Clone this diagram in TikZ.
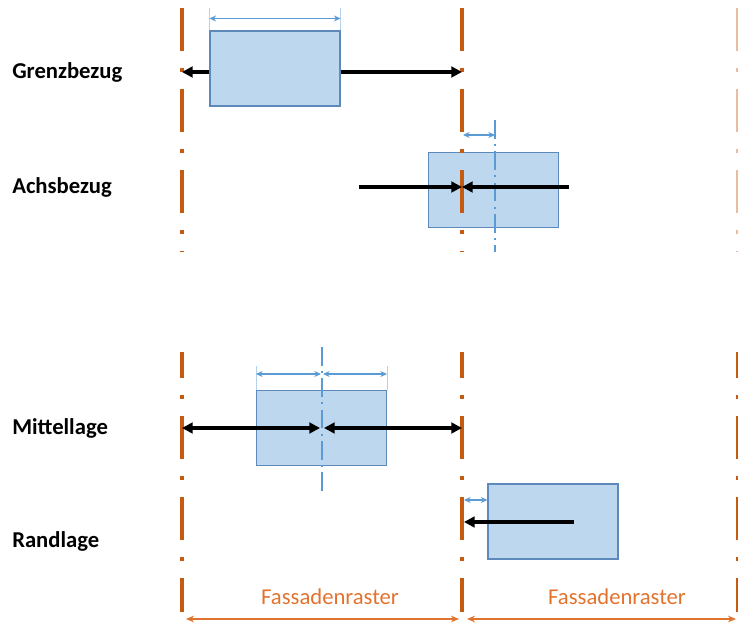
\documentclass[tikz,border=0pt]{standalone}
\usepackage{fontspec}
\setmainfont{Carlito}
\usetikzlibrary{positioning, arrows.meta, backgrounds}

\definecolor{rasterorange}{HTML}{C55A11}
\definecolor{textorange}{HTML}{E2732F}
\definecolor{boxfill}{HTML}{BDD7EE}
\definecolor{boxdraw}{HTML}{5E89BB}
\definecolor{dimblue}{HTML}{5B9BD5}

\begin{document}
\begin{tikzpicture}[
    x=0.75pt, y=-0.75pt,
    raster/.style={rasterorange, line width=3pt,
                   dash pattern=on 32.25pt off 12.75pt on 3pt off 12.75pt},
    element/.style={rectangle, draw=boxdraw, fill=boxfill, line width=0.8pt,
                    minimum width=97.5pt, minimum height=56.25pt, inner sep=0pt},
    achse/.style={dimblue, line width=0.8pt,
                  dash pattern=on 14pt off 4pt on 1.5pt off 4pt},
    rowlabel/.style={anchor=west, font=\fontsize{17}{19}\selectfont\bfseries, inner sep=0pt},
    rasterlabel/.style={textorange, font=\fontsize{17}{19}\selectfont, inner sep=0pt},
    arr/.style={-{Stealth[length=8pt, width=8pt, inset=0pt]}, line width=2.6pt},
    darr/.style={{Stealth[length=8pt, width=8pt, inset=0pt]}-{Stealth[length=8pt, width=8pt, inset=0pt]},
                 line width=2.6pt},
    dim/.style={{Stealth[length=5pt, width=4.5pt]}-{Stealth[length=5pt, width=4.5pt]},
                dimblue, line width=0.8pt},
    ext/.style={dimblue!45, line width=0.5pt},
    rdim/.style={{Stealth[length=6pt, width=5pt]}-{Stealth[length=6pt, width=5pt]},
                 textorange, line width=0.8pt},
]
\useasboundingbox (0,0) rectangle (739,623);

% Elemente (hinter dem Raster)
\begin{scope}[on background layer]
\node[element] (gb) at (275,68.5) {};
\node[element] (ab) at (493.5,190) {};
\node[element] (ml) at (321.5,428) {};
\node[element] (rl) at (553,521.5) {};
\end{scope}

% Fassadenraster
\foreach \gx in {182, 462} {
  \draw[raster] (\gx,8) -- (\gx,252);
  \draw[raster, dash phase=12.75pt] (\gx,352) -- (\gx,612);
}
\draw[raster, line width=2pt, rasterorange!40] (737,8) -- (737,252);
\draw[raster, line width=2pt, dash phase=12.75pt] (737,352) -- (737,612);

% Grenzbezug
\node[rowlabel] (lgb) at (12,72) {Grenzbezug};
\coordinate (gbl) at (182,72);
\coordinate (gbr) at (462,72);
\draw[ext] (gb.north west) -- ++(0,-22);
\draw[ext] (gb.north east) -- ++(0,-22);
\draw[dim] ([yshift=9pt]gb.north west) -- ([yshift=9pt]gb.north east);
\draw[arr] (gb.west |- gbl) -- (gbl);
\draw[arr] (gb.east |- gbr) -- (gbr);

% Achsbezug
\node[rowlabel] (lab) at (12,187) {Achsbezug};
\coordinate (abax) at (495,120);
\coordinate (abay) at (495,252);
\coordinate (abm) at (462,187);
\coordinate (abs) at (359,187);
\coordinate (abe) at (569,187);
\draw[achse] (abax) -- (abay);
\draw[dim] (463,135) -- (abax |- 0,135);
\draw[arr] (abs) -- (abm);
\draw[arr] (abe) -- (abm);

% Mittellage
\node[rowlabel] (lml) at (12,428) {Mittellage};
\coordinate (mlax) at (322,347);
\coordinate (mlay) at (322,492);
\coordinate (mll) at (182,428);
\coordinate (mlr) at (462,428);
\draw[achse] (mlax) -- (mlay);
\draw[ext] (ml.north west) -- ++(0,-24);
\draw[ext] (ml.north east) -- ++(0,-24);
\draw[dim] (ml.north west |- 0,374) -- (321,374);
\draw[dim] (323,374) -- (ml.north east |- 0,374);
\draw[darr] (mll) -- (320,428);
\draw[darr] (324,428) -- (mlr);

% Randlage
\node[rowlabel] (lrl) at (12,541) {Randlage};
\coordinate (rlm) at (464,522);
\coordinate (rls) at (574,522);
\draw[dim] (464,500) -- (rl.west |- 0,500);
\draw[arr] (rls) -- (rlm);

% Beschriftung Raster
\node[rasterlabel] (fr1) at (330,597) {Fassadenraster};
\node[rasterlabel] (fr2) at (617,597) {Fassadenraster};
\coordinate (r1l) at (186,619);
\coordinate (r1r) at (459,619);
\coordinate (r2l) at (467,619);
\coordinate (r2r) at (736,619);
\draw[rdim] (r1l) -- (r1r);
\draw[rdim] (r2l) -- (r2r);

\end{tikzpicture}
\end{document}
